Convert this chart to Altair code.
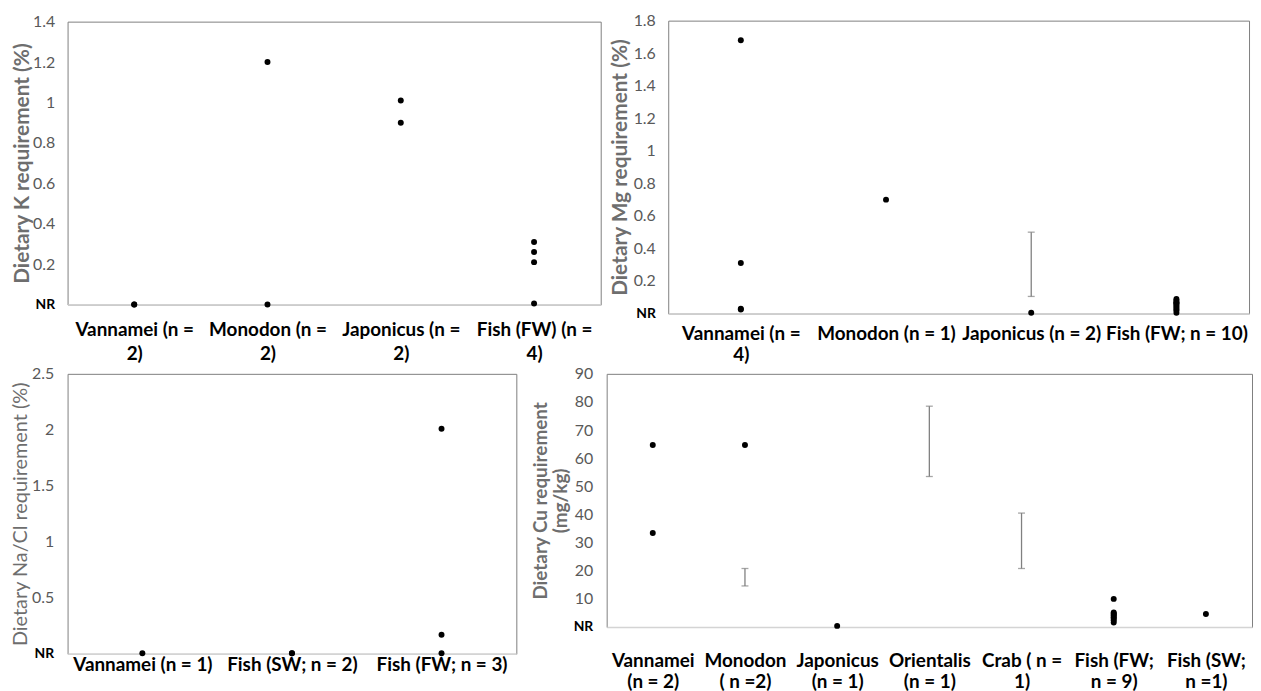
import altair as alt
import pandas as pd

FONT = "Lato"
TITLE_GRAY = "#6e6e6e"
TICK_GRAY = "#595959"
BAR_GRAY = "#808080"

# ---------------- data ----------------
# Panel 1: potassium
K_CATS = ["Vannamei (n =\n2)", "Monodon (n =\n2)", "Japonicus (n =\n2)", "Fish (FW) (n =\n4)"]
K_PT_CAT = [K_CATS[0], K_CATS[0], K_CATS[1], K_CATS[1], K_CATS[2], K_CATS[2],
            K_CATS[3], K_CATS[3], K_CATS[3], K_CATS[3]]
K_PT_VAL = [0.0, 0.0, 1.2, 0.0, 1.01, 0.9, 0.31, 0.26, 0.21, 0.005]
K_TICKS = [0, 0.2, 0.4, 0.6, 0.8, 1, 1.2, 1.4]

# Panel 2: magnesium
MG_CATS = ["Vannamei (n =\n4)", "Monodon (n = 1)", "Japonicus (n = 2)", "Fish (FW; n = 10)"]
MG_PT_CAT = [MG_CATS[0]] * 4 + [MG_CATS[1]] + [MG_CATS[2]] + [MG_CATS[3]] * 10
MG_PT_VAL = [1.68, 0.31, 0.03, 0.025, 0.7, 0.005,
             0.09, 0.08, 0.07, 0.065, 0.06, 0.05, 0.04, 0.03, 0.02, 0.005]
MG_EB_CAT = [MG_CATS[2]]
MG_EB_LO = [0.105]
MG_EB_HI = [0.5]
MG_TICKS = [0, 0.2, 0.4, 0.6, 0.8, 1, 1.2, 1.4, 1.6, 1.8]

# Panel 3: sodium / chloride
NA_CATS = ["Vannamei (n = 1)", "Fish (SW; n = 2)", "Fish (FW; n = 3)"]
NA_PT_CAT = [NA_CATS[0], NA_CATS[1], NA_CATS[1], NA_CATS[2], NA_CATS[2], NA_CATS[2]]
NA_PT_VAL = [0.005, 0.005, 0.005, 2.01, 0.17, 0.005]
NA_TICKS = [0, 0.5, 1, 1.5, 2, 2.5]

# Panel 4: copper
CU_CATS = ["Vannamei\n(n = 2)", "Monodon\n( n =2)", "Japonicus\n(n = 1)", "Orientalis\n(n = 1)",
           "Crab ( n =\n1)", "Fish (FW;\nn = 9)", "Fish (SW;\nn =1)"]
CU_PT_CAT = [CU_CATS[0], CU_CATS[0], CU_CATS[1], CU_CATS[2]] + [CU_CATS[5]] * 9 + [CU_CATS[6]]
CU_PT_VAL = [64.7, 33.4, 64.7, 0.4,
             10, 5.2, 4.8, 4.4, 4, 3.5, 3, 2.4, 1.6, 4.6]
CU_EB_CAT = [CU_CATS[1], CU_CATS[3], CU_CATS[4]]
CU_EB_LO = [14.6, 53.5, 20.8]
CU_EB_HI = [20.8, 78.5, 40.5]
CU_TICKS = [0, 10, 20, 30, 40, 50, 60, 70, 80, 90]


def panel(cats, pt_cat, pt_val, ticks, title, width, height,
          title_size, title_weight, title_pad, y_extent, y_label_pad,
          x_label_pad, x_line_h, eb_cat=None, eb_lo=None, eb_hi=None):
    pts = pd.DataFrame({"cat": pt_cat, "val": pt_val})
    xscale = alt.Scale(type="point", padding=0.5, domain=cats)
    xaxis = alt.Axis(
        title=None, labelAngle=0, ticks=False, grid=False,
        domain=True, domainColor="#d4d4d4", domainWidth=1.5,
        labelFont=FONT, labelFontSize=19, labelFontWeight="bold",
        labelColor="black", labelPadding=x_label_pad,
        labelLineHeight=x_line_h, labelLimit=400,
        labelExpr="split(datum.label, '\\n')",
    )
    yaxis = alt.Axis(
        values=ticks, ticks=False, grid=False, domain=False,
        labelExpr="datum.value == 0 ? 'NR' : datum.label",
        format="~r",
        labelFont=FONT, labelFontSize={"condition": {"test": "datum.value == 0", "value": 14}, "value": 16},
        labelColor={"condition": {"test": "datum.value == 0", "value": "black"}, "value": TICK_GRAY},
        labelFontWeight={"condition": {"test": "datum.value == 0", "value": "bold"}, "value": "normal"},
        labelPadding=y_label_pad, minExtent=y_extent, maxExtent=y_extent,
        titleFont=FONT, titleFontSize=title_size, titleFontWeight=title_weight,
        titleColor=TITLE_GRAY, titlePadding=title_pad, titleLineHeight=title_size + 2,
    )
    yscale = alt.Scale(domain=[0, ticks[-1]], nice=False, zero=True)

    layers = []
    if eb_cat:
        ebs = pd.DataFrame({"cat": eb_cat, "lo": eb_lo, "hi": eb_hi})
        ebase = alt.Chart(ebs).encode(x=alt.X("cat:N", scale=xscale, axis=xaxis, sort=cats))
        layers.append(ebase.mark_rule(color=BAR_GRAY, strokeWidth=1.3).encode(
            y=alt.Y("lo:Q", scale=yscale, axis=yaxis, title=title), y2="hi:Q"))
        layers.append(ebase.mark_tick(color=BAR_GRAY, size=7, thickness=1.3).encode(
            y=alt.Y("lo:Q", scale=yscale, axis=yaxis, title=title)))
        layers.append(ebase.mark_tick(color=BAR_GRAY, size=7, thickness=1.3).encode(
            y=alt.Y("hi:Q", scale=yscale, axis=yaxis, title=title)))
    layers.append(alt.Chart(pts).mark_circle(size=36, color="black", opacity=1).encode(
        x=alt.X("cat:N", scale=xscale, axis=xaxis, sort=cats),
        y=alt.Y("val:Q", scale=yscale, axis=yaxis, title=title),
    ))
    return alt.layer(*layers).properties(width=width, height=height)


k = panel(K_CATS, K_PT_CAT, K_PT_VAL, K_TICKS, "Dietary K requirement (%)",
          537, 285, 21, "bold", 1, 34, 13, 16, 24)
mg = panel(MG_CATS, MG_PT_CAT, MG_PT_VAL, MG_TICKS, "Dietary Mg requirement (%)",
           585, 295, 21, "bold", 4, 34, 13, 11, 21,
           MG_EB_CAT, MG_EB_LO, MG_EB_HI)
na = panel(NA_CATS, NA_PT_CAT, NA_PT_VAL, NA_TICKS, "Dietary Na/Cl requirement (%)",
           452, 282, 20, "normal", 4, 33, 14, 2, 22)
cu = panel(CU_CATS, CU_PT_CAT, CU_PT_VAL, CU_TICKS, ["Dietary Cu requirement", "(mg/kg)"],
           650, 255, 19, "bold", 6, 30, 14, 25, 21,
           CU_EB_CAT, CU_EB_LO, CU_EB_HI)

top = alt.hconcat(k, mg, spacing=7, center=True)
bottom = alt.hconcat(na, cu, spacing=13)

chart = (
    alt.vconcat(top, bottom, spacing=0)
    .properties(padding={"left": 2, "top": 1, "right": 0, "bottom": 0})
    .configure(font=FONT)
    .configure_view(stroke="#7f7f7f", strokeWidth=1)
)

chart.save("out.html", embed_options={"renderer": "svg", "actions": False})
